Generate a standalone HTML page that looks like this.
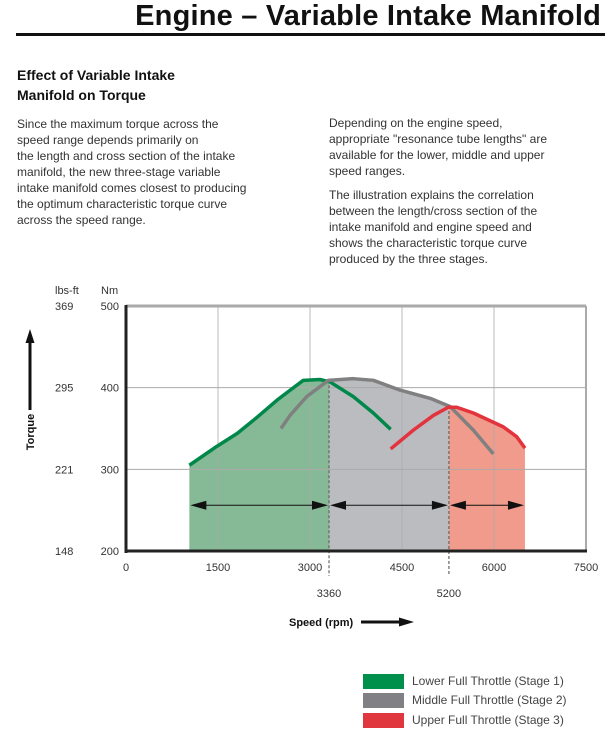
<!DOCTYPE html>
<html><head><meta charset="utf-8">
<style>
body{margin:0;width:605px;height:737px;background:#fff;font-family:"Liberation Sans",sans-serif;color:#222;position:relative;overflow:hidden}
.a{position:absolute;white-space:nowrap}
.t{font-size:12px;line-height:16px;color:#333;letter-spacing:0px}
</style></head><body>
<div class="a" style="right:4px;top:0px;font-size:29px;font-weight:bold;color:#111;letter-spacing:0.2px">Engine – Variable Intake Manifold</div>
<div class="a" style="left:16px;top:33px;width:589px;height:3px;background:#111"></div>
<div class="a" style="left:17px;top:65px;font-size:14px;font-weight:bold;line-height:20px;color:#111">Effect of Variable Intake<br>Manifold on Torque</div>
<div class="a t" style="left:17px;top:116px">Since the maximum torque across the<br>speed range depends primarily on<br>the length and cross section of the intake<br>manifold, the new three-stage variable<br>intake manifold comes closest to producing<br>the optimum characteristic torque curve<br>across the speed range.</div>
<div class="a t" style="left:329px;top:115px">Depending on the engine speed,<br>appropriate "resonance tube lengths" are<br>available for the lower, middle and upper<br>speed ranges.</div>
<div class="a t" style="left:329px;top:187px">The illustration explains the correlation<br>between the length/cross section of the<br>intake manifold and engine speed and<br>shows the characteristic torque curve<br>produced by the three stages.</div>

<svg id="chart" class="a" style="left:0;top:0" width="605" height="737"></svg>

<div class="a" style="left:363px;top:674px">
<div style="position:absolute;left:0;top:0;white-space:nowrap"><span style="position:absolute;width:41px;height:15px;background:#00904c"></span><span style="position:absolute;left:49px;top:0;font-size:12px;color:#444">Lower Full Throttle (Stage 1)</span></div>
<div style="position:absolute;left:0;top:19px;white-space:nowrap"><span style="position:absolute;width:41px;height:15px;background:#808085"></span><span style="position:absolute;left:49px;top:0;font-size:12px;color:#444">Middle Full Throttle (Stage 2)</span></div>
<div style="position:absolute;left:0;top:39px;white-space:nowrap"><span style="position:absolute;width:41px;height:15px;background:#e0373f"></span><span style="position:absolute;left:49px;top:0;font-size:12px;color:#444">Upper Full Throttle (Stage 3)</span></div>
</div>

<script>
const xTicks=[0,1500,3000,4500,6000,7500];
const yTicksNm=[200,300,400,500];
const yTicksLbs=[148,221,295,369];
const stageBounds=[3310,5265];
const stageLabels=[3360,5200];
const stage1Rpm=[1033,1478,1814,2141,2467,2783,2891,3163,3326,3706,4032,4315];
const stage1Nm=[305,328,344,364,385,403,409,410,407,389,369,349];
const stage2Rpm=[2527,2674,2946,3299,3706,4032,4467,4957,5283,5663,5989];
const stage2Nm=[350,366,389,409,411,409,397,387,377,348,319];
const stage3Rpm=[4315,4685,5011,5256,5391,5663,6152,6369,6505];
const stage3Nm=[325,348,366,376,376,369,352,340,326];
const rangeStart=1033, rangeEnd=6505, arrowNm=256;

const L=126,R=586,T=306,B=551;
const X=v=>L+(v/7500)*(R-L);
const Y=v=>B-(v-200)/300*(B-T);
const svg=document.getElementById('chart');
const NS='http://www.w3.org/2000/svg';
function mk(tag,attrs,parent){const e=document.createElementNS(NS,tag);for(const k in attrs)e.setAttribute(k,attrs[k]);(parent||svg).appendChild(e);return e;}
function interp(xs,ys,x){if(x<xs[0]||x>xs[xs.length-1])return null;for(let i=1;i<xs.length;i++){if(x<=xs[i]){const t=(x-xs[i-1])/(xs[i]-xs[i-1]);return ys[i-1]+t*(ys[i]-ys[i-1]);}}return ys[ys.length-1];}
function env(x){let m=null;[[stage1Rpm,stage1Nm],[stage2Rpm,stage2Nm],[stage3Rpm,stage3Nm]].forEach(([a,b])=>{const v=interp(a,b,x);if(v!==null&&(m===null||v>m))m=v;});return m;}
function fillArea(a,b,color,name){let pts=[[X(a),B]];for(let x=a;x<=b;x+=10){pts.push([X(x),Y(env(x))]);}pts.push([X(b),Y(env(b))]);pts.push([X(b),B]);
 const p=mk('polygon',{points:pts.map(p=>p.join(',')).join(' '),fill:color});
 
 }
fillArea(rangeStart,stageBounds[0],'#86b996','stage1-fill');
fillArea(stageBounds[0],stageBounds[1],'#bbbcc0','stage2-fill');
fillArea(stageBounds[1],rangeEnd,'#f09b8b','stage3-fill');
xTicks.slice(1,-1).forEach(v=>{const l=mk('line',{x1:X(v),x2:X(v),y1:T,y2:B,stroke:'#aaa','stroke-width':1,'stroke-opacity':0.8});
 
 });
yTicksNm.slice(1,-1).forEach(v=>{const l=mk('line',{x1:L,x2:R,y1:Y(v),y2:Y(v),stroke:'#aaa','stroke-width':1});
 
 });
mk('line',{x1:L,x2:R,y1:T,y2:T,stroke:'#aaa','stroke-width':3});
mk('line',{x1:R,x2:R,y1:T,y2:B,stroke:'#aaa','stroke-width':2});
stageBounds.forEach((v,i)=>{const l=mk('line',{x1:X(v),x2:X(v),y1:Y(env(v)),y2:576,stroke:'#666','stroke-width':1.2,'stroke-dasharray':'3,2'});
 
 
 const t=mk('text',{x:X(v),y:597,'text-anchor':'middle','font-size':11,fill:'#333'});t.textContent=stageLabels[i];
 
 });
function curve(xs,ys,color,name){const d=xs.map((x,i)=>(i?'L':'M')+X(x)+','+Y(ys[i])).join(' ');
 const p=mk('path',{d:d,fill:'none',stroke:color,'stroke-width':3.5,'stroke-linejoin':'round'});
 
 }
curve(stage1Rpm,stage1Nm,'#00884a','stage1-curve');
curve(stage2Rpm,stage2Nm,'#808080','stage2-curve');
curve(stage3Rpm,stage3Nm,'#e3333d','stage3-curve');
function arrow(a,b){const y=Y(arrowNm),x1=X(a),x2=X(b);
 const g=mk('g',{});
 
 
 mk('line',{x1:x1+10,x2:x2-10,y1:y,y2:y,stroke:'#111','stroke-width':1},g);
 mk('polygon',{points:`${x1+1},${y} ${x1+17},${y-4.5} ${x1+17},${y+4.5}`,fill:'#111'},g);
 mk('polygon',{points:`${x2-1},${y} ${x2-17},${y-4.5} ${x2-17},${y+4.5}`,fill:'#111'},g);}
arrow(rangeStart,stageBounds[0]);arrow(stageBounds[0],stageBounds[1]);arrow(stageBounds[1],rangeEnd);
mk('line',{x1:L,x2:L,y1:T-1,y2:B+2,stroke:'#222','stroke-width':3});
mk('line',{x1:L-1,x2:R+1,y1:B,y2:B,stroke:'#222','stroke-width':3});
xTicks.forEach(v=>{const t=mk('text',{x:X(v),y:571,'text-anchor':'middle','font-size':11,fill:'#333'});t.textContent=v;
 
 });
yTicksNm.forEach((v,i)=>{const t=mk('text',{x:119,y:Y(v)+4,'text-anchor':'end','font-size':11,fill:'#333'});t.textContent=v;
 
 
 const u=mk('text',{x:55,y:Y(v)+4,'font-size':11,fill:'#333'});u.textContent=yTicksLbs[i];
 
 });
let t=mk('text',{x:55,y:294,'font-size':11,fill:'#333'});t.textContent='lbs-ft';


t=mk('text',{x:101,y:294,'font-size':11,fill:'#333'});t.textContent='Nm';


t=mk('text',{x:0,y:0,'font-size':11,'font-weight':'bold',fill:'#111','text-anchor':'middle',transform:'translate(34,432) rotate(-90)'});t.textContent='Torque';


mk('line',{x1:30,x2:30,y1:410,y2:340,stroke:'#111','stroke-width':3});
mk('polygon',{points:'30,329 25.5,343 34.5,343',fill:'#111'});
t=mk('text',{x:289,y:626,'font-size':11,'font-weight':'bold',fill:'#111'});t.textContent='Speed (rpm)';


mk('line',{x1:361,x2:400,y1:622,y2:622,stroke:'#111','stroke-width':3});
mk('polygon',{points:'414,622 399,617.5 399,626.5',fill:'#111'});
</script>
</body></html>
